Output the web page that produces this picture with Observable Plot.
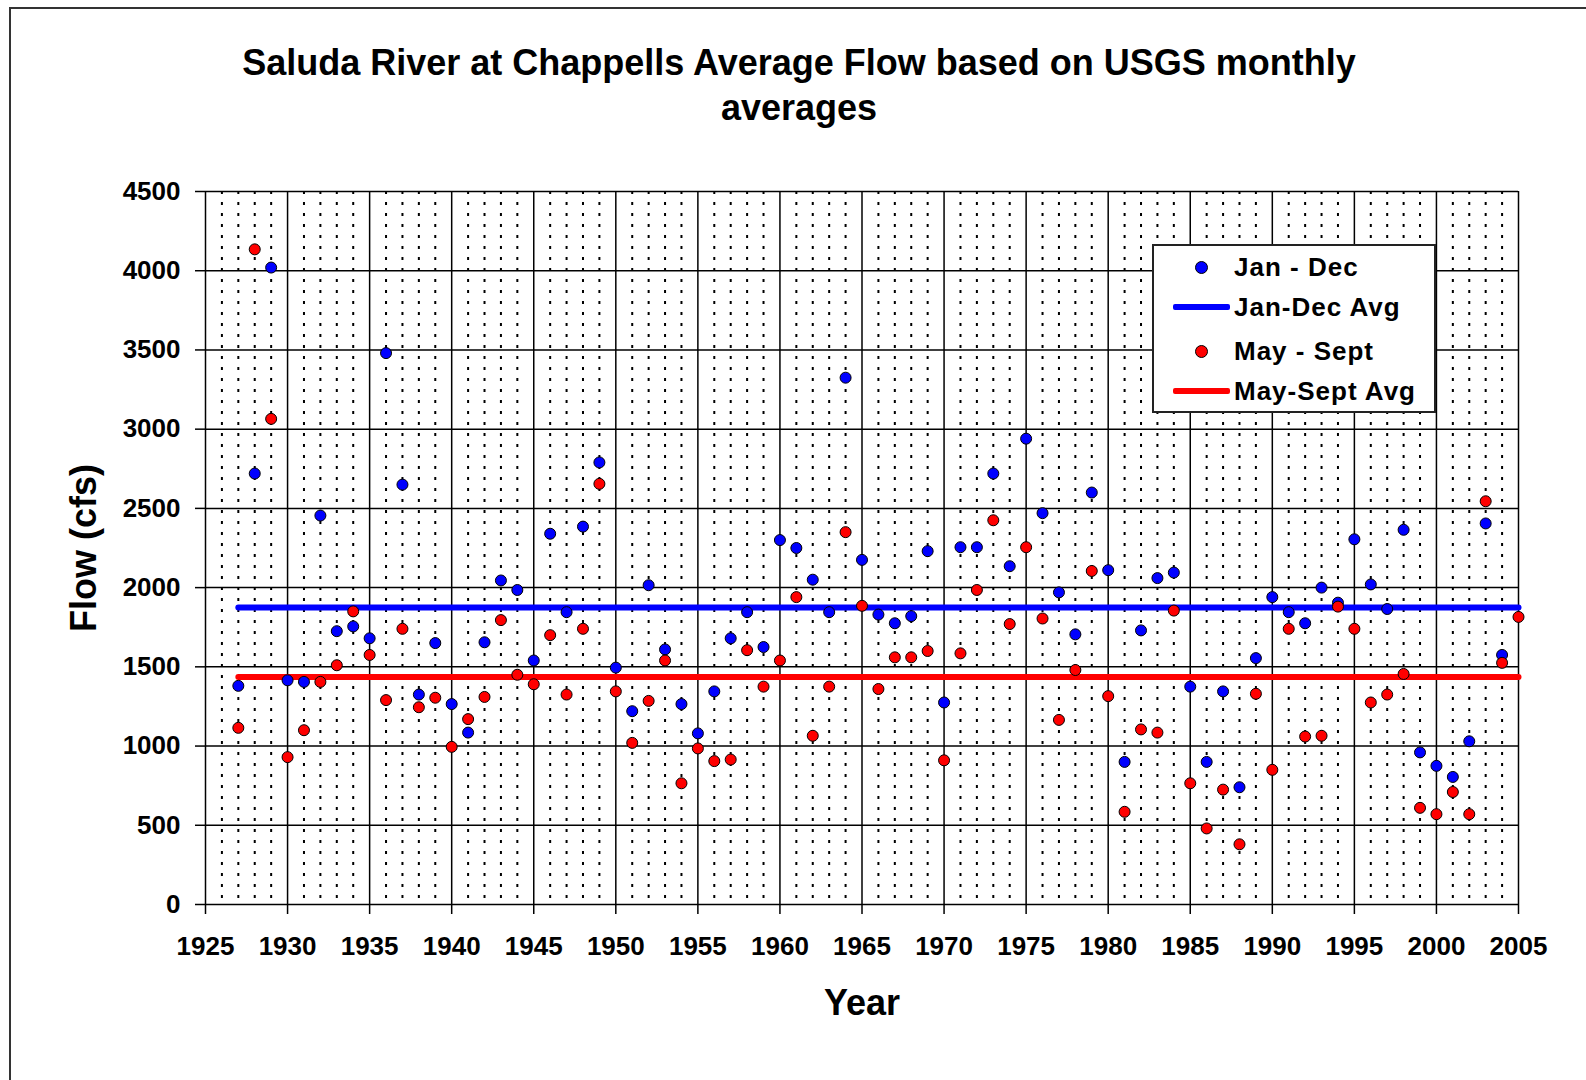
<!DOCTYPE html>
<html>
<head>
<meta charset="utf-8">
<script src="https://cdn.jsdelivr.net/npm/d3@7"></script>
<script src="https://cdn.jsdelivr.net/npm/@observablehq/plot@0.6"></script>
<style>
  html, body { margin: 0; padding: 0; background: #fff; overflow: hidden; }
  #page { position: relative; width: 1586px; height: 1080px; font-family: "Liberation Sans", Arial, sans-serif; color: #000; }
  #frame { position: absolute; left: 9px; top: 7px; width: 1700px; height: 1200px; border-left: 2px solid #333; border-top: 2px solid #333; }
  #title { position: absolute; left: 10px; width: 1578px; top: 40px; text-align: center; font-weight: bold; font-size: 36px; line-height: 45px; }
  #chart { position: absolute; left: 0; top: 140px; }
  #legend { position: absolute; left: 1152px; top: 244px; width: 280px; height: 165px; border: 2px solid #222; background: #fff; }
  .lg-text { position: absolute; left: 80px; height: 30px; line-height: 30px; font-size: 26px; font-weight: bold; letter-spacing: 1px; white-space: pre; }
  .lg-dot { position: absolute; width: 11px; height: 11px; border-radius: 50%; border: 1px solid #000; }
  .lg-line { position: absolute; left: 19px; width: 57px; height: 6px; border-radius: 2px; }
</style>
</head>
<body>
<div id="page">
  <div id="frame"></div>
  <div id="title">Saluda River at Chappells Average Flow based on USGS monthly<br>averages</div>
  <div id="chart"></div>
  <div id="legend"></div>
</div>
<script>
// ---- Data ----
const years = [
  1927, 1928, 1929,
  1930, 1931, 1932, 1933, 1934, 1935, 1936, 1937, 1938, 1939,
  1940, 1941, 1942, 1943, 1944, 1945, 1946, 1947, 1948, 1949,
  1950, 1951, 1952, 1953, 1954, 1955, 1956, 1957, 1958, 1959,
  1960, 1961, 1962, 1963, 1964, 1965, 1966, 1967, 1968, 1969,
  1970, 1971, 1972, 1973, 1974, 1975, 1976, 1977, 1978, 1979,
  1980, 1981, 1982, 1983, 1984, 1985, 1986, 1987, 1988, 1989,
  1990, 1991, 1992, 1993, 1994, 1995, 1996, 1997, 1998, 1999,
  2000, 2001, 2002, 2003, 2004, 2005
];
// Jan - Dec annual average flow (cfs)
const janDec = [
  1380, 2720, 4020,
  1415, 1405, 2455, 1725, 1755, 1680, 3480, 2650, 1325, 1650,
  1265, 1085, 1655, 2045, 1985, 1540, 2340, 1845, 2385, 2790,
  1495, 1220, 2015, 1610, 1265, 1080, 1345, 1680, 1845, 1625,
  2300, 2250, 2050, 1845, 3325, 2175, 1830, 1775, 1820, 2230,
  1275, 2255, 2255, 2720, 2135, 2940, 2470, 1970, 1705, 2600,
  2110, 900, 1730, 2060, 2095, 1375, 900, 1345, 740, 1555,
  1940, 1845, 1775, 2000, 1905, 2305, 2020, 1865, 2365, 960,
  875, 805, 1030, 2405, 1575, null
];
// May - Sept average flow (cfs)
const maySept = [
  1115, 4135, 3065,
  930, 1100, 1405, 1510, 1850, 1575, 1290, 1740, 1245, 1305,
  995, 1170, 1310, 1795, 1450, 1390, 1700, 1325, 1740, 2655,
  1345, 1020, 1285, 1540, 765, 985, 905, 915, 1605, 1375,
  1540, 1940, 1065, 1375, 2350, 1885, 1360, 1560, 1560, 1600,
  910, 1585, 1985, 2425, 1770, 2255, 1805, 1165, 1480, 2105,
  1315, 585, 1105, 1085, 1855, 765, 480, 725, 380, 1330,
  850, 1740, 1060, 1065, 1880, 1740, 1275, 1325, 1455, 610,
  570, 710, 570, 2545, 1525, 1815
];
const avgJanDec = 1875;
const avgMaySept = 1436;
const avgSpan = [1927, 2005];

const xTicks = [1925, 1930, 1935, 1940, 1945, 1950, 1955, 1960, 1965, 1970, 1975, 1980, 1985, 1990, 1995, 2000, 2005];
const yTicks = [0, 500, 1000, 1500, 2000, 2500, 3000, 3500, 4000, 4500];
const minorYears = d3.range(xTicks[0] + 1, xTicks[xTicks.length - 1]).filter(y => y % 5 !== 0);

const seriesNames = ["Jan - Dec", "Jan-Dec Avg", "May - Sept", "May-Sept Avg"];
const BLUE = "#0000ff", RED = "#ff0000";

// ---- Build tables ----
const blueData = years.map((yr, i) => ({year: yr, flow: janDec[i]})).filter(d => d.flow != null);
const redData = years.map((yr, i) => ({year: yr, flow: maySept[i]})).filter(d => d.flow != null);
const blueAvg = avgSpan.map(yr => ({year: yr, flow: avgJanDec}));
const redAvg = avgSpan.map(yr => ({year: yr, flow: avgMaySept}));

const FONT = '"Liberation Sans", Arial, sans-serif';

const chart = Plot.plot({
  width: 1586,
  height: 940,
  marginLeft: 205,
  marginRight: 68,
  marginTop: 51,
  marginBottom: 176,
  style: {fontFamily: FONT, color: "#000", background: "transparent", overflow: "visible"},
  x: {domain: [1925, 2005]},
  y: {domain: [0, 4500]},
  marks: [
    Plot.ruleX(minorYears, {stroke: "#000", strokeWidth: 2, strokeDasharray: "3,8"}),
    Plot.ruleX(xTicks, {stroke: "#000", strokeWidth: 1.5}),
    Plot.ruleY(yTicks, {stroke: "#000", strokeWidth: 1.5}),
    Plot.axisX({ticks: xTicks, tickSize: 10, tickPadding: 22, fontSize: 26, fontWeight: "bold",
      tickFormat: d => String(d), label: null, strokeWidth: 1.5}),
    Plot.axisY({ticks: yTicks, tickSize: 10, tickPadding: 15, fontSize: 26, fontWeight: "bold",
      tickFormat: d => String(d), label: null, strokeWidth: 1.5}),
    Plot.line(blueAvg, {x: "year", y: "flow", stroke: BLUE, strokeWidth: 6}),
    Plot.line(redAvg, {x: "year", y: "flow", stroke: RED, strokeWidth: 6}),
    Plot.dot(blueData, {x: "year", y: "flow", r: 5.5, fill: BLUE, stroke: "#000", strokeWidth: 1}),
    Plot.dot(redData, {x: "year", y: "flow", r: 5.5, fill: RED, stroke: "#000", strokeWidth: 1}),
    Plot.text(["Year"], {text: d => d, frameAnchor: "bottom", dy: 99, fontSize: 36, fontWeight: "bold", lineAnchor: "middle", textAnchor: "middle"}),
    Plot.text(["Flow (cfs)"], {text: d => d, frameAnchor: "left", dx: -121, rotate: -90, fontSize: 36, fontWeight: "bold", lineAnchor: "middle", textAnchor: "middle"})
  ]
});
document.getElementById("chart").appendChild(chart);

// ---- Legend ----
const legend = document.getElementById("legend");
const rowCenters = [21, 61, 105, 145];
const legendItems = [
  {label: seriesNames[0], kind: "dot", color: BLUE},
  {label: seriesNames[1], kind: "line", color: BLUE},
  {label: seriesNames[2], kind: "dot", color: RED},
  {label: seriesNames[3], kind: "line", color: RED}
];
legendItems.forEach((it, i) => {
  const c = rowCenters[i];
  const sw = document.createElement("div");
  if (it.kind === "dot") {
    sw.className = "lg-dot";
    sw.style.left = (47 - 6.5) + "px";
    sw.style.top = (c - 6.5) + "px";
  } else {
    sw.className = "lg-line";
    sw.style.top = (c - 3) + "px";
  }
  sw.style.background = it.color;
  legend.appendChild(sw);
  const t = document.createElement("div");
  t.className = "lg-text";
  t.style.top = (c - 15) + "px";
  t.textContent = it.label;
  legend.appendChild(t);
});
</script>
</body>
</html>
